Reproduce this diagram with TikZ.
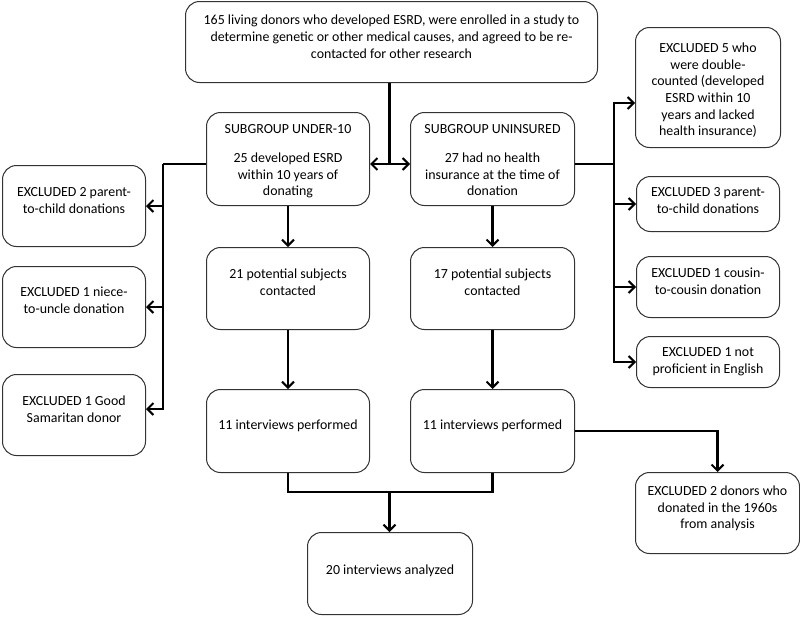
\documentclass[tikz,border=0pt]{standalone}
\usepackage{fontspec}
\setmainfont{Carlito}
\usetikzlibrary{arrows.meta,calc}
\newcommand\fbx[7]{%
  \node[box, anchor=north west] (#1) at (#2,#3)
    {\parbox[c][\dimexpr#5pt-#3pt\relax][t]{\dimexpr#4pt-#2pt\relax}{\centering\vspace*{#6pt}\strut #7\par}};}
\begin{document}
\begin{tikzpicture}[x=1pt,y=-1pt,
  box/.style={draw=black!80, line width=1pt, rounded corners=14pt, inner sep=0pt, fill=white,
    font=\fontsize{13.9}{16.7}\selectfont},
  conn/.style={line width=2.3pt, draw=black},
  arr/.style={conn, -{Straight Barb[length=6pt,width=12pt,line width=2pt]}},
  darr/.style={conn, {Straight Barb[length=6pt,width=12pt,line width=2pt]}-{Straight Barb[length=6pt,width=12pt,line width=2pt]}}]
\useasboundingbox (0,0) rectangle (800,616);
\fill[white] (0,0) rectangle (800,616);
% boxes
\fbx{top}{185}{1}{597}{82}{11.8}{165 living donors who developed ESRD, were enrolled in a study to\\determine genetic or other medical causes, and agreed to be re-\\contacted for other research}
\fbx{u10}{206}{112}{369}{205}{9.8}{SUBGROUP UNDER-10\\[11.8pt]25 developed ESRD\\within 10 years of\\donating}
\fbx{uni}{410}{112}{574}{205}{9.8}{SUBGROUP UNINSURED\\[11.8pt]27 had no health\\insurance at the time of\\donation}
\fbx{e1}{2}{165}{145}{246}{19.3}{EXCLUDED 2 parent-\\to-child donations}
\fbx{e2}{2}{266}{145}{347}{18.3}{EXCLUDED 1 niece-\\to-uncle donation}
\fbx{e3}{2}{374}{145}{455}{19.3}{EXCLUDED 1 Good\\Samaritan donor}
\fbx{p21}{206}{247}{369}{329}{19.3}{21 potential subjects\\contacted}
\fbx{p17}{410}{247}{574}{329}{19.3}{17 potential subjects\\contacted}
\fbx{i11a}{206}{389}{369}{472}{28.3}{11 interviews performed}
\fbx{i11b}{410}{389}{574}{472}{28.3}{11 interviews performed}
\fbx{an}{307}{532}{472}{614}{30.3}{20 interviews analyzed}
\fbx{ex2}{635}{472}{799}{553}{11.3}{EXCLUDED 2 donors who\\donated in the 1960s\\from analysis}
\fbx{xA}{635}{27}{780}{147}{13.3}{EXCLUDED 5 who\\were double-\\counted (developed\\ESRD within 10\\years and lacked\\health insurance)}
\fbx{xB}{636}{176}{779}{231}{8.3}{EXCLUDED 3 parent-\\to-child donations}
\fbx{xC}{636}{256}{779}{317}{9.3}{EXCLUDED 1 cousin-\\to-cousin donation}
\fbx{xD}{636}{336}{779}{387}{8.3}{EXCLUDED 1 not\\proficient in English}
% junctions
\coordinate (j1) at (389.5,164);
\coordinate (lj) at (163,164);
\coordinate (rj) at (614,164);
\coordinate (mj) at (389.5,492);
\coordinate (a3) at (145,409);
\coordinate (aA) at (635,103);
% connectors
\draw[conn] (top.south -| j1) -- (j1);
\draw[darr] (u10.east |- j1) -- (uni.west |- j1);
\draw[conn] (u10.west |- lj) -- (lj);
\draw[arr] (lj) |- (e3.east |- a3);
\draw[arr] (lj |- e1.east) -- (e1.east);
\draw[arr] (lj |- e2.east) -- (e2.east);
\draw[conn] (uni.east |- rj) -- (rj);
\draw[arr] (rj) |- (xA.west |- aA);
\draw[arr] (rj) |- (xD.west);
\draw[arr] (rj |- xB.west) -- (xB.west);
\draw[arr] (rj |- xC.west) -- (xC.west);
\draw[arr] (u10.south) -- (p21.north);
\draw[arr] (uni.south) -- (p17.north);
\draw[arr] (p21.south) -- (i11a.north);
\draw[arr] (p17.south) -- (i11b.north);
\draw[conn] (i11a.south) -- (i11a.south |- mj) -- (i11b.south |- mj) -- (i11b.south);
\draw[arr] (mj) -- (an.north -| mj);
\draw[arr] (i11b.east) -| (ex2.north);
\end{tikzpicture}
\end{document}
